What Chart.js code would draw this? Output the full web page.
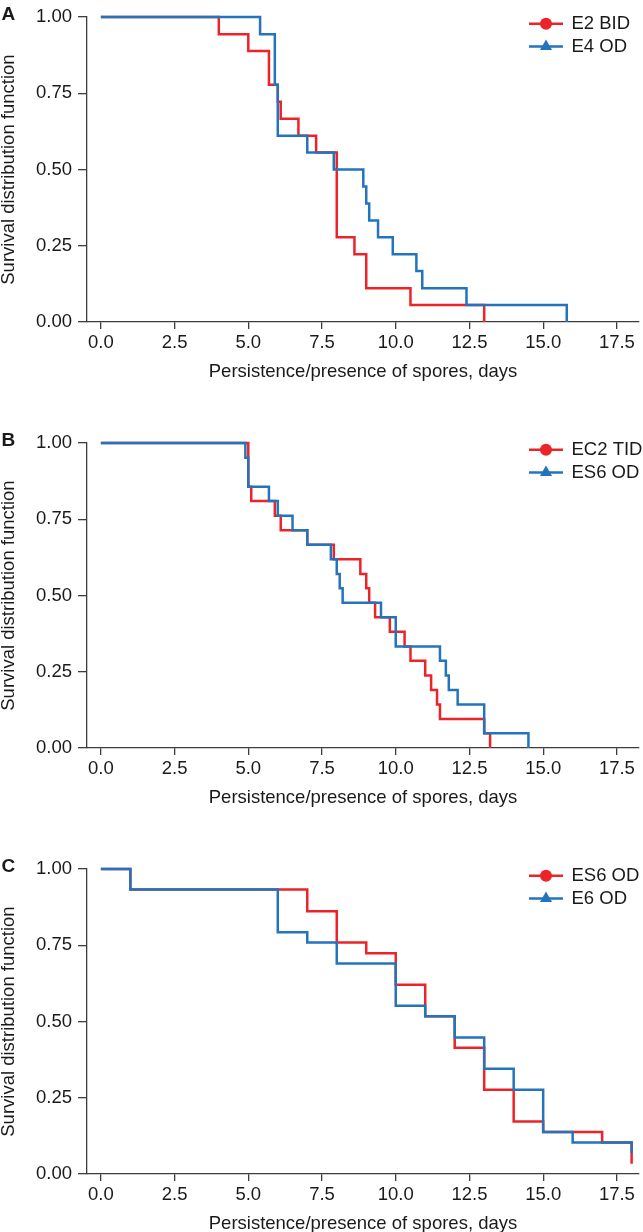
<!DOCTYPE html>
<html>
<head>
<meta charset="utf-8">
<script src="https://cdn.jsdelivr.net/npm/chart.js@4.4.0/dist/chart.umd.min.js"></script>
<style>
html, body { margin: 0; padding: 0; background: #fff; overflow: hidden; }
canvas { display: block; }
</style>
</head>
<body>
<canvas id="chartA" width="643" height="426"></canvas>
<canvas id="chartB" width="643" height="426"></canvas>
<canvas id="chartC" width="643" height="426"></canvas>
<script>
// shared axes
const xTicks = [0, 2.5, 5, 7.5, 10, 12.5, 15, 17.5];
const yTicks = [0, 0.25, 0.5, 0.75, 1];
const xTitle = 'Persistence/presence of spores, days';
const yTitle = 'Survival distribution function';

// panel A
const aLabels = ['E2 BID', 'E4 OD'];
const aRedDays = [0, 4.0, 5.0, 5.7, 6.0, 6.1, 6.7, 7.3, 8.0, 8.6, 9.0, 10.5, 13.0];
const aRedSurv = [1, 0.944, 0.889, 0.778, 0.722, 0.667, 0.611, 0.556, 0.278, 0.222, 0.111, 0.056, 0];
const aBlueDays = [0, 5.4, 5.9, 6.0, 7.0, 7.9, 8.9, 9.0, 9.1, 9.4, 9.9, 10.7, 10.9, 12.4, 15.8];
const aBlueSurv = [1, 0.944, 0.778, 0.611, 0.556, 0.5, 0.444, 0.389, 0.333, 0.278, 0.222, 0.167, 0.111, 0.056, 0];

// panel B
const bLabels = ['EC2 TID', 'ES6 OD'];
const bRedDays = [0, 5.0, 5.1, 5.9, 6.1, 7.0, 7.9, 8.8, 9.0, 9.1, 9.3, 9.8, 10.3, 10.5, 11.0, 11.2, 11.4, 11.5, 13.0, 13.2];
const bRedSurv = [1, 0.857, 0.810, 0.762, 0.714, 0.667, 0.619, 0.571, 0.524, 0.476, 0.429, 0.381, 0.333, 0.286, 0.238, 0.190, 0.143, 0.095, 0.048, 0];
const bBlueDays = [0, 4.9, 5.0, 5.7, 6.0, 6.5, 7.0, 7.8, 8.0, 8.1, 8.2, 9.5, 10.0, 11.5, 11.7, 11.8, 12.1, 13.0, 14.5];
const bBlueSurv = [1, 0.952, 0.857, 0.810, 0.762, 0.714, 0.667, 0.619, 0.571, 0.524, 0.476, 0.429, 0.333, 0.286, 0.238, 0.190, 0.143, 0.048, 0];

// panel C
const cLabels = ['ES6 OD', 'E6 OD'];
const cRedDays = [0, 1, 7, 8, 9, 10, 11, 12, 13, 14, 15, 17, 18];
const cRedSurv = [1, 0.933, 0.862, 0.759, 0.724, 0.621, 0.517, 0.414, 0.276, 0.172, 0.138, 0.103, 0.034];
const cBlueDays = [0, 1, 6, 7, 8, 10, 11, 12, 13, 14, 15, 16, 18];
const cBlueSurv = [1, 0.933, 0.793, 0.759, 0.690, 0.552, 0.517, 0.448, 0.345, 0.276, 0.138, 0.103, 0.069];

const red = '#ec2329';
const blue = '#2374bd';
const axisColor = '#3c3c3c';
const textColor = '#1a1a1a';
const family = '"Liberation Sans", Arial, Helvetica, sans-serif';

// panel letter + legend drawn inside the plot, top right
const panelDecor = {
    id: 'panelDecor',
    afterDraw(chart, args, opts) {
        const ctx = chart.ctx;
        const area = chart.chartArea;
        ctx.save();
        ctx.fillStyle = textColor;
        ctx.textBaseline = 'middle';
        ctx.textAlign = 'left';
        ctx.font = 'bold 19px ' + family;
        ctx.fillText(opts.letter, 1.5, area.top - 2.5);

        ctx.font = '18.5px ' + family;
        chart.data.datasets.forEach((ds, i) => {
            const y = area.top + 6.7 + i * 22.6;
            ctx.strokeStyle = ds.borderColor;
            ctx.fillStyle = ds.borderColor;
            ctx.lineWidth = 2.5;
            ctx.beginPath();
            ctx.moveTo(529, y);
            ctx.lineTo(563, y);
            ctx.stroke();
            Chart.helpers.drawPoint(ctx, {
                pointStyle: i === 0 ? 'circle' : 'triangle',
                radius: i === 0 ? 6 : 7,
                borderWidth: 0
            }, 546, y);
            ctx.fillStyle = textColor;
            ctx.fillText(ds.label, 571.5, y + 0.5);
        });
        ctx.restore();
    }
};

function makeChart(id, letter, labels, redDays, redSurv, blueDays, blueSurv) {
    const font = {family: family, size: 18.5};
    const ctx = document.getElementById(id).getContext('2d');
    return new Chart(ctx, {
        type: 'line',
        data: {
            datasets: [{
                label: labels[0],
                data: redDays.map((d, i) => ({x: d, y: redSurv[i]})),
                borderColor: red,
                borderWidth: 2.5,
                stepped: 'before',
                pointRadius: 0,
                fill: false,
                clip: 3,
                order: 1
            }, {
                label: labels[1],
                data: blueDays.map((d, i) => ({x: d, y: blueSurv[i]})),
                borderColor: blue,
                borderWidth: 2.5,
                stepped: 'before',
                pointRadius: 0,
                fill: false,
                clip: 3,
                order: 0
            }]
        },
        options: {
            responsive: false,
            animation: false,
            events: [],
            layout: {padding: {top: 14, left: 0, right: 4, bottom: 43}},
            elements: {line: {borderJoinStyle: 'miter', borderCapStyle: 'butt'}},
            plugins: {
                legend: {display: false},
                tooltip: {enabled: false},
                panelDecor: {letter: letter}
            },
            scales: {
                x: {
                    type: 'linear',
                    min: -0.47,
                    max: 18.25,
                    afterBuildTicks: s => { s.ticks = xTicks.map(v => ({value: v})); },
                    afterFit: s => { s.height = 61; },
                    border: {display: true, color: axisColor, width: 1.3},
                    grid: {drawOnChartArea: false, drawTicks: true, tickLength: 7, color: axisColor, lineWidth: 1.3},
                    ticks: {font: font, color: textColor, padding: 3, maxRotation: 0, callback: v => v.toFixed(1)},
                    title: {display: true, text: xTitle, font: {family: family, size: 18.5, lineHeight: 1}, color: textColor, padding: {top: 0, bottom: 2}}
                },
                y: {
                    min: 0,
                    max: 1,
                    afterBuildTicks: s => { s.ticks = yTicks.map(v => ({value: v})); },
                    afterFit: s => { s.width = 87; },
                    border: {display: true, color: axisColor, width: 1.3},
                    grid: {drawOnChartArea: false, drawTicks: true, tickLength: 9, color: axisColor, lineWidth: 1.3},
                    ticks: {font: font, color: textColor, padding: 6, callback: v => v.toFixed(2)},
                    title: {display: true, text: yTitle, font: {family: family, size: 18.5, lineHeight: 1}, color: textColor, padding: {top: 0, bottom: 0}}
                }
            }
        },
        plugins: [panelDecor]
    });
}

makeChart('chartA', 'A', aLabels, aRedDays, aRedSurv, aBlueDays, aBlueSurv);
makeChart('chartB', 'B', bLabels, bRedDays, bRedSurv, bBlueDays, bBlueSurv);
makeChart('chartC', 'C', cLabels, cRedDays, cRedSurv, cBlueDays, cBlueSurv);
</script>
</body>
</html>
